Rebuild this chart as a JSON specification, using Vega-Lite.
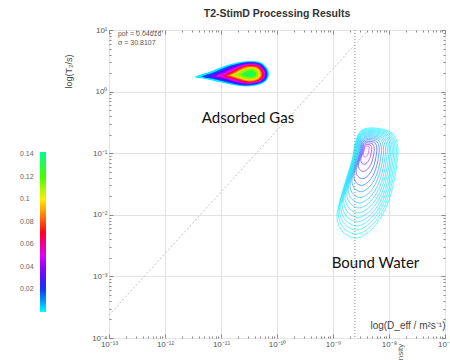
{
"$schema":"https://vega.github.io/schema/vega-lite/v6.json",
"width":336,"height":308,
"autosize":{"type":"none"},
"padding":{"left":109,"top":30,"right":5,"bottom":22},
"background":"white",
"title":{"text":"T2-StimD Processing Results","fontSize":10.5,"fontWeight":"bold","font":"Liberation Sans","color":"#333","anchor":"middle","offset":7},
"config":{
 "view":{"stroke":"#a0a0a0","strokeWidth":1},
 "axis":{"labelFont":"Liberation Sans","titleFont":"Liberation Sans","labelColor":"#555","labelFontSize":8,"tickColor":"#888","gridColor":"#e2e2e2","domain":false,"labelOverlap":false,"labelFlush":false,"titleFontWeight":"normal","titleColor":"#444"}
},
"resolve":{"axis":{"x":"independent","y":"independent"},"scale":{"color":"independent"}},
"datasets":{
"gas":[
{"g":"A","v":0.002,"i":1,"d":-11.464,"t":0.237},{"g":"A","v":0.002,"i":2,"d":-11.214,"t":0.318},{"g":"A","v":0.002,"i":3,"d":-10.964,"t":0.408},{"g":"A","v":0.002,"i":4,"d":-10.714,"t":0.473},{"g":"A","v":0.002,"i":5,"d":-10.464,"t":0.497},{"g":"A","v":0.002,"i":6,"d":-10.285,"t":0.473},{"g":"A","v":0.002,"i":7,"d":-10.178,"t":0.383},{"g":"A","v":0.002,"i":8,"d":-10.143,"t":0.286},{"g":"A","v":0.002,"i":9,"d":-10.178,"t":0.189},{"g":"A","v":0.002,"i":10,"d":-10.303,"t":0.116},{"g":"A","v":0.002,"i":11,"d":-10.535,"t":0.083},{"g":"A","v":0.002,"i":12,"d":-10.785,"t":0.107},{"g":"A","v":0.002,"i":13,"d":-11.035,"t":0.156},{"g":"A","v":0.002,"i":14,"d":-11.268,"t":0.205},
{"g":"B","v":0.018,"i":1,"d":-11.344,"t":0.241},{"g":"B","v":0.018,"i":2,"d":-11.124,"t":0.315},{"g":"B","v":0.018,"i":3,"d":-10.904,"t":0.398},{"g":"B","v":0.018,"i":4,"d":-10.684,"t":0.458},{"g":"B","v":0.018,"i":5,"d":-10.464,"t":0.48},{"g":"B","v":0.018,"i":6,"d":-10.299,"t":0.458},{"g":"B","v":0.018,"i":7,"d":-10.201,"t":0.375},{"g":"B","v":0.018,"i":8,"d":-10.169,"t":0.286},{"g":"B","v":0.018,"i":9,"d":-10.201,"t":0.197},{"g":"B","v":0.018,"i":10,"d":-10.316,"t":0.13},{"g":"B","v":0.018,"i":11,"d":-10.527,"t":0.099},{"g":"B","v":0.018,"i":12,"d":-10.747,"t":0.121},{"g":"B","v":0.018,"i":13,"d":-10.967,"t":0.166},{"g":"B","v":0.018,"i":14,"d":-11.172,"t":0.211},
{"g":"C","v":0.035,"i":1,"d":-11.224,"t":0.244},{"g":"C","v":0.035,"i":2,"d":-11.034,"t":0.313},{"g":"C","v":0.035,"i":3,"d":-10.844,"t":0.39},{"g":"C","v":0.035,"i":4,"d":-10.654,"t":0.445},{"g":"C","v":0.035,"i":5,"d":-10.464,"t":0.465},{"g":"C","v":0.035,"i":6,"d":-10.312,"t":0.445},{"g":"C","v":0.035,"i":7,"d":-10.221,"t":0.368},{"g":"C","v":0.035,"i":8,"d":-10.191,"t":0.286},{"g":"C","v":0.035,"i":9,"d":-10.221,"t":0.204},{"g":"C","v":0.035,"i":10,"d":-10.327,"t":0.142},{"g":"C","v":0.035,"i":11,"d":-10.518,"t":0.113},{"g":"C","v":0.035,"i":12,"d":-10.708,"t":0.134},{"g":"C","v":0.035,"i":13,"d":-10.898,"t":0.176},{"g":"C","v":0.035,"i":14,"d":-11.075,"t":0.217},
{"g":"D","v":0.05,"i":1,"d":-11.104,"t":0.248},{"g":"D","v":0.05,"i":2,"d":-10.944,"t":0.311},{"g":"D","v":0.05,"i":3,"d":-10.784,"t":0.381},{"g":"D","v":0.05,"i":4,"d":-10.624,"t":0.432},{"g":"D","v":0.05,"i":5,"d":-10.464,"t":0.451},{"g":"D","v":0.05,"i":6,"d":-10.324,"t":0.432},{"g":"D","v":0.05,"i":7,"d":-10.241,"t":0.362},{"g":"D","v":0.05,"i":8,"d":-10.214,"t":0.286},{"g":"D","v":0.05,"i":9,"d":-10.241,"t":0.21},{"g":"D","v":0.05,"i":10,"d":-10.338,"t":0.153},{"g":"D","v":0.05,"i":11,"d":-10.509,"t":0.128},{"g":"D","v":0.05,"i":12,"d":-10.669,"t":0.146},{"g":"D","v":0.05,"i":13,"d":-10.829,"t":0.185},{"g":"D","v":0.05,"i":14,"d":-10.979,"t":0.223},
{"g":"E","v":0.068,"i":1,"d":-10.984,"t":0.252},{"g":"E","v":0.068,"i":2,"d":-10.854,"t":0.308},{"g":"E","v":0.068,"i":3,"d":-10.724,"t":0.371},{"g":"E","v":0.068,"i":4,"d":-10.594,"t":0.417},{"g":"E","v":0.068,"i":5,"d":-10.464,"t":0.434},{"g":"E","v":0.068,"i":6,"d":-10.339,"t":0.417},{"g":"E","v":0.068,"i":7,"d":-10.264,"t":0.354},{"g":"E","v":0.068,"i":8,"d":-10.239,"t":0.286},{"g":"E","v":0.068,"i":9,"d":-10.264,"t":0.218},{"g":"E","v":0.068,"i":10,"d":-10.351,"t":0.167},{"g":"E","v":0.068,"i":11,"d":-10.501,"t":0.144},{"g":"E","v":0.068,"i":12,"d":-10.631,"t":0.161},{"g":"E","v":0.068,"i":13,"d":-10.761,"t":0.195},{"g":"E","v":0.068,"i":14,"d":-10.882,"t":0.229},
{"g":"F","v":0.082,"i":1,"d":-10.904,"t":0.256},{"g":"F","v":0.082,"i":2,"d":-10.794,"t":0.306},{"g":"F","v":0.082,"i":3,"d":-10.684,"t":0.362},{"g":"F","v":0.082,"i":4,"d":-10.574,"t":0.402},{"g":"F","v":0.082,"i":5,"d":-10.464,"t":0.417},{"g":"F","v":0.082,"i":6,"d":-10.353,"t":0.402},{"g":"F","v":0.082,"i":7,"d":-10.287,"t":0.346},{"g":"F","v":0.082,"i":8,"d":-10.265,"t":0.286},{"g":"F","v":0.082,"i":9,"d":-10.287,"t":0.226},{"g":"F","v":0.082,"i":10,"d":-10.364,"t":0.181},{"g":"F","v":0.082,"i":11,"d":-10.495,"t":0.16},{"g":"F","v":0.082,"i":12,"d":-10.605,"t":0.175},{"g":"F","v":0.082,"i":13,"d":-10.715,"t":0.205},{"g":"F","v":0.082,"i":14,"d":-10.818,"t":0.236},
{"g":"G","v":0.097,"i":1,"d":-10.844,"t":0.26},{"g":"G","v":0.097,"i":2,"d":-10.749,"t":0.303},{"g":"G","v":0.097,"i":3,"d":-10.654,"t":0.352},{"g":"G","v":0.097,"i":4,"d":-10.559,"t":0.387},{"g":"G","v":0.097,"i":5,"d":-10.464,"t":0.4},{"g":"G","v":0.097,"i":6,"d":-10.367,"t":0.387},{"g":"G","v":0.097,"i":7,"d":-10.31,"t":0.338},{"g":"G","v":0.097,"i":8,"d":-10.291,"t":0.286},{"g":"G","v":0.097,"i":9,"d":-10.31,"t":0.234},{"g":"G","v":0.097,"i":10,"d":-10.377,"t":0.194},{"g":"G","v":0.097,"i":11,"d":-10.491,"t":0.176},{"g":"G","v":0.097,"i":12,"d":-10.586,"t":0.189},{"g":"G","v":0.097,"i":13,"d":-10.681,"t":0.216},{"g":"G","v":0.097,"i":14,"d":-10.77,"t":0.242},
{"g":"H","v":0.112,"i":1,"d":-10.764,"t":0.265},{"g":"H","v":0.112,"i":2,"d":-10.689,"t":0.299},{"g":"H","v":0.112,"i":3,"d":-10.614,"t":0.337},{"g":"H","v":0.112,"i":4,"d":-10.539,"t":0.365},{"g":"H","v":0.112,"i":5,"d":-10.464,"t":0.375},{"g":"H","v":0.112,"i":6,"d":-10.389,"t":0.365},{"g":"H","v":0.112,"i":7,"d":-10.344,"t":0.327},{"g":"H","v":0.112,"i":8,"d":-10.329,"t":0.286},{"g":"H","v":0.112,"i":9,"d":-10.344,"t":0.245},{"g":"H","v":0.112,"i":10,"d":-10.396,"t":0.215},{"g":"H","v":0.112,"i":11,"d":-10.485,"t":0.201},{"g":"H","v":0.112,"i":12,"d":-10.56,"t":0.211},{"g":"H","v":0.112,"i":13,"d":-10.635,"t":0.231},{"g":"H","v":0.112,"i":14,"d":-10.705,"t":0.252},
{"g":"I","v":0.126,"i":1,"d":-10.664,"t":0.272},{"g":"I","v":0.126,"i":2,"d":-10.614,"t":0.295},{"g":"I","v":0.126,"i":3,"d":-10.564,"t":0.32},{"g":"I","v":0.126,"i":4,"d":-10.514,"t":0.338},{"g":"I","v":0.126,"i":5,"d":-10.464,"t":0.345},{"g":"I","v":0.126,"i":6,"d":-10.414,"t":0.338},{"g":"I","v":0.126,"i":7,"d":-10.384,"t":0.313},{"g":"I","v":0.126,"i":8,"d":-10.374,"t":0.286},{"g":"I","v":0.126,"i":9,"d":-10.384,"t":0.259},{"g":"I","v":0.126,"i":10,"d":-10.419,"t":0.238},{"g":"I","v":0.126,"i":11,"d":-10.478,"t":0.229},{"g":"I","v":0.126,"i":12,"d":-10.528,"t":0.236},{"g":"I","v":0.126,"i":13,"d":-10.578,"t":0.25},{"g":"I","v":0.126,"i":14,"d":-10.625,"t":0.263},
{"g":"J","v":0.138,"i":1,"d":-10.564,"t":0.279},{"g":"J","v":0.138,"i":2,"d":-10.539,"t":0.29},{"g":"J","v":0.138,"i":3,"d":-10.514,"t":0.303},{"g":"J","v":0.138,"i":4,"d":-10.489,"t":0.312},{"g":"J","v":0.138,"i":5,"d":-10.464,"t":0.316},{"g":"J","v":0.138,"i":6,"d":-10.439,"t":0.312},{"g":"J","v":0.138,"i":7,"d":-10.424,"t":0.3},{"g":"J","v":0.138,"i":8,"d":-10.419,"t":0.286},{"g":"J","v":0.138,"i":9,"d":-10.424,"t":0.272},{"g":"J","v":0.138,"i":10,"d":-10.441,"t":0.262},{"g":"J","v":0.138,"i":11,"d":-10.471,"t":0.258},{"g":"J","v":0.138,"i":12,"d":-10.496,"t":0.261},{"g":"J","v":0.138,"i":13,"d":-10.521,"t":0.268},{"g":"J","v":0.138,"i":14,"d":-10.544,"t":0.275}
],
"water":[
{"g":"W01","v":0.001,"i":1,"d":-8.25,"t":-0.591},{"g":"W01","v":0.001,"i":2,"d":-7.947,"t":-0.672},{"g":"W01","v":0.001,"i":3,"d":-7.84,"t":-0.916},{"g":"W01","v":0.001,"i":4,"d":-7.875,"t":-1.273},{"g":"W01","v":0.001,"i":5,"d":-7.947,"t":-1.598},{"g":"W01","v":0.001,"i":6,"d":-8.072,"t":-1.922},{"g":"W01","v":0.001,"i":7,"d":-8.286,"t":-2.215},{"g":"W01","v":0.001,"i":8,"d":-8.572,"t":-2.377},{"g":"W01","v":0.001,"i":9,"d":-8.822,"t":-2.28},{"g":"W01","v":0.001,"i":10,"d":-8.929,"t":-2.052},{"g":"W01","v":0.001,"i":11,"d":-8.875,"t":-1.76},{"g":"W01","v":0.001,"i":12,"d":-8.768,"t":-1.435},{"g":"W01","v":0.001,"i":13,"d":-8.661,"t":-1.111},{"g":"W01","v":0.001,"i":14,"d":-8.59,"t":-0.786},{"g":"W01","v":0.001,"i":15,"d":-8.482,"t":-0.624},
{"g":"W02","v":0.0015,"i":1,"d":-8.257,"t":-0.606},{"g":"W02","v":0.0015,"i":2,"d":-7.968,"t":-0.683},{"g":"W02","v":0.0015,"i":3,"d":-7.866,"t":-0.916},{"g":"W02","v":0.0015,"i":4,"d":-7.899,"t":-1.257},{"g":"W02","v":0.0015,"i":5,"d":-7.968,"t":-1.567},{"g":"W02","v":0.0015,"i":6,"d":-8.087,"t":-1.877},{"g":"W02","v":0.0015,"i":7,"d":-8.292,"t":-2.157},{"g":"W02","v":0.0015,"i":8,"d":-8.565,"t":-2.311},{"g":"W02","v":0.0015,"i":9,"d":-8.804,"t":-2.219},{"g":"W02","v":0.0015,"i":10,"d":-8.906,"t":-2.001},{"g":"W02","v":0.0015,"i":11,"d":-8.854,"t":-1.722},{"g":"W02","v":0.0015,"i":12,"d":-8.752,"t":-1.412},{"g":"W02","v":0.0015,"i":13,"d":-8.65,"t":-1.102},{"g":"W02","v":0.0015,"i":14,"d":-8.582,"t":-0.792},{"g":"W02","v":0.0015,"i":15,"d":-8.479,"t":-0.637},
{"g":"W03","v":0.002,"i":1,"d":-8.264,"t":-0.62},{"g":"W03","v":0.002,"i":2,"d":-7.989,"t":-0.694},{"g":"W03","v":0.002,"i":3,"d":-7.891,"t":-0.916},{"g":"W03","v":0.002,"i":4,"d":-7.923,"t":-1.241},{"g":"W03","v":0.002,"i":5,"d":-7.989,"t":-1.537},{"g":"W03","v":0.002,"i":6,"d":-8.103,"t":-1.831},{"g":"W03","v":0.002,"i":7,"d":-8.297,"t":-2.098},{"g":"W03","v":0.002,"i":8,"d":-8.558,"t":-2.246},{"g":"W03","v":0.002,"i":9,"d":-8.785,"t":-2.157},{"g":"W03","v":0.002,"i":10,"d":-8.882,"t":-1.95},{"g":"W03","v":0.002,"i":11,"d":-8.833,"t":-1.684},{"g":"W03","v":0.002,"i":12,"d":-8.736,"t":-1.388},{"g":"W03","v":0.002,"i":13,"d":-8.639,"t":-1.093},{"g":"W03","v":0.002,"i":14,"d":-8.574,"t":-0.798},{"g":"W03","v":0.002,"i":15,"d":-8.476,"t":-0.65},
{"g":"W04","v":0.0025,"i":1,"d":-8.272,"t":-0.635},{"g":"W04","v":0.0025,"i":2,"d":-8.01,"t":-0.705},{"g":"W04","v":0.0025,"i":3,"d":-7.917,"t":-0.916},{"g":"W04","v":0.0025,"i":4,"d":-7.947,"t":-1.225},{"g":"W04","v":0.0025,"i":5,"d":-8.01,"t":-1.506},{"g":"W04","v":0.0025,"i":6,"d":-8.118,"t":-1.786},{"g":"W04","v":0.0025,"i":7,"d":-8.303,"t":-2.04},{"g":"W04","v":0.0025,"i":8,"d":-8.55,"t":-2.18},{"g":"W04","v":0.0025,"i":9,"d":-8.767,"t":-2.096},{"g":"W04","v":0.0025,"i":10,"d":-8.859,"t":-1.899},{"g":"W04","v":0.0025,"i":11,"d":-8.812,"t":-1.646},{"g":"W04","v":0.0025,"i":12,"d":-8.72,"t":-1.365},{"g":"W04","v":0.0025,"i":13,"d":-8.627,"t":-1.085},{"g":"W04","v":0.0025,"i":14,"d":-8.566,"t":-0.804},{"g":"W04","v":0.0025,"i":15,"d":-8.472,"t":-0.663},
{"g":"W05","v":0.003,"i":1,"d":-8.279,"t":-0.649},{"g":"W05","v":0.003,"i":2,"d":-8.031,"t":-0.716},{"g":"W05","v":0.003,"i":3,"d":-7.943,"t":-0.916},{"g":"W05","v":0.003,"i":4,"d":-7.971,"t":-1.209},{"g":"W05","v":0.003,"i":5,"d":-8.031,"t":-1.475},{"g":"W05","v":0.003,"i":6,"d":-8.133,"t":-1.741},{"g":"W05","v":0.003,"i":7,"d":-8.308,"t":-1.981},{"g":"W05","v":0.003,"i":8,"d":-8.543,"t":-2.114},{"g":"W05","v":0.003,"i":9,"d":-8.748,"t":-2.034},{"g":"W05","v":0.003,"i":10,"d":-8.836,"t":-1.848},{"g":"W05","v":0.003,"i":11,"d":-8.791,"t":-1.608},{"g":"W05","v":0.003,"i":12,"d":-8.704,"t":-1.342},{"g":"W05","v":0.003,"i":13,"d":-8.616,"t":-1.076},{"g":"W05","v":0.003,"i":14,"d":-8.558,"t":-0.809},{"g":"W05","v":0.003,"i":15,"d":-8.469,"t":-0.677},
{"g":"W06","v":0.0035,"i":1,"d":-8.287,"t":-0.666},{"g":"W06","v":0.0035,"i":2,"d":-8.054,"t":-0.728},{"g":"W06","v":0.0035,"i":3,"d":-7.971,"t":-0.916},{"g":"W06","v":0.0035,"i":4,"d":-7.998,"t":-1.191},{"g":"W06","v":0.0035,"i":5,"d":-8.054,"t":-1.441},{"g":"W06","v":0.0035,"i":6,"d":-8.15,"t":-1.691},{"g":"W06","v":0.0035,"i":7,"d":-8.315,"t":-1.916},{"g":"W06","v":0.0035,"i":8,"d":-8.535,"t":-2.041},{"g":"W06","v":0.0035,"i":9,"d":-8.727,"t":-1.966},{"g":"W06","v":0.0035,"i":10,"d":-8.81,"t":-1.791},{"g":"W06","v":0.0035,"i":11,"d":-8.768,"t":-1.566},{"g":"W06","v":0.0035,"i":12,"d":-8.686,"t":-1.316},{"g":"W06","v":0.0035,"i":13,"d":-8.604,"t":-1.066},{"g":"W06","v":0.0035,"i":14,"d":-8.549,"t":-0.816},{"g":"W06","v":0.0035,"i":15,"d":-8.466,"t":-0.691},
{"g":"W07","v":0.004,"i":1,"d":-8.295,"t":-0.682},{"g":"W07","v":0.004,"i":2,"d":-8.077,"t":-0.74},{"g":"W07","v":0.004,"i":3,"d":-8.0,"t":-0.916},{"g":"W07","v":0.004,"i":4,"d":-8.025,"t":-1.173},{"g":"W07","v":0.004,"i":5,"d":-8.077,"t":-1.407},{"g":"W07","v":0.004,"i":6,"d":-8.167,"t":-1.64},{"g":"W07","v":0.004,"i":7,"d":-8.321,"t":-1.851},{"g":"W07","v":0.004,"i":8,"d":-8.527,"t":-1.968},{"g":"W07","v":0.004,"i":9,"d":-8.707,"t":-1.898},{"g":"W07","v":0.004,"i":10,"d":-8.784,"t":-1.734},{"g":"W07","v":0.004,"i":11,"d":-8.745,"t":-1.524},{"g":"W07","v":0.004,"i":12,"d":-8.668,"t":-1.29},{"g":"W07","v":0.004,"i":13,"d":-8.591,"t":-1.056},{"g":"W07","v":0.004,"i":14,"d":-8.54,"t":-0.822},{"g":"W07","v":0.004,"i":15,"d":-8.462,"t":-0.706},
{"g":"W08","v":0.005,"i":1,"d":-8.304,"t":-0.7},{"g":"W08","v":0.005,"i":2,"d":-8.102,"t":-0.754},{"g":"W08","v":0.005,"i":3,"d":-8.031,"t":-0.916},{"g":"W08","v":0.005,"i":4,"d":-8.055,"t":-1.153},{"g":"W08","v":0.005,"i":5,"d":-8.102,"t":-1.37},{"g":"W08","v":0.005,"i":6,"d":-8.186,"t":-1.585},{"g":"W08","v":0.005,"i":7,"d":-8.328,"t":-1.78},{"g":"W08","v":0.005,"i":8,"d":-8.518,"t":-1.888},{"g":"W08","v":0.005,"i":9,"d":-8.684,"t":-1.823},{"g":"W08","v":0.005,"i":10,"d":-8.755,"t":-1.671},{"g":"W08","v":0.005,"i":11,"d":-8.72,"t":-1.477},{"g":"W08","v":0.005,"i":12,"d":-8.648,"t":-1.261},{"g":"W08","v":0.005,"i":13,"d":-8.577,"t":-1.046},{"g":"W08","v":0.005,"i":14,"d":-8.53,"t":-0.83},{"g":"W08","v":0.005,"i":15,"d":-8.458,"t":-0.722},
{"g":"W09","v":0.006,"i":1,"d":-8.313,"t":-0.718},{"g":"W09","v":0.006,"i":2,"d":-8.128,"t":-0.767},{"g":"W09","v":0.006,"i":3,"d":-8.063,"t":-0.916},{"g":"W09","v":0.006,"i":4,"d":-8.084,"t":-1.134},{"g":"W09","v":0.006,"i":5,"d":-8.128,"t":-1.332},{"g":"W09","v":0.006,"i":6,"d":-8.204,"t":-1.53},{"g":"W09","v":0.006,"i":7,"d":-8.335,"t":-1.708},{"g":"W09","v":0.006,"i":8,"d":-8.509,"t":-1.807},{"g":"W09","v":0.006,"i":9,"d":-8.662,"t":-1.748},{"g":"W09","v":0.006,"i":10,"d":-8.727,"t":-1.609},{"g":"W09","v":0.006,"i":11,"d":-8.694,"t":-1.431},{"g":"W09","v":0.006,"i":12,"d":-8.629,"t":-1.233},{"g":"W09","v":0.006,"i":13,"d":-8.564,"t":-1.035},{"g":"W09","v":0.006,"i":14,"d":-8.52,"t":-0.837},{"g":"W09","v":0.006,"i":15,"d":-8.454,"t":-0.738},
{"g":"W10","v":0.008,"i":1,"d":-8.322,"t":-0.737},{"g":"W10","v":0.008,"i":2,"d":-8.156,"t":-0.782},{"g":"W10","v":0.008,"i":3,"d":-8.097,"t":-0.916},{"g":"W10","v":0.008,"i":4,"d":-8.116,"t":-1.112},{"g":"W10","v":0.008,"i":5,"d":-8.156,"t":-1.291},{"g":"W10","v":0.008,"i":6,"d":-8.225,"t":-1.469},{"g":"W10","v":0.008,"i":7,"d":-8.342,"t":-1.63},{"g":"W10","v":0.008,"i":8,"d":-8.5,"t":-1.72},{"g":"W10","v":0.008,"i":9,"d":-8.637,"t":-1.666},{"g":"W10","v":0.008,"i":10,"d":-8.696,"t":-1.541},{"g":"W10","v":0.008,"i":11,"d":-8.666,"t":-1.38},{"g":"W10","v":0.008,"i":12,"d":-8.607,"t":-1.201},{"g":"W10","v":0.008,"i":13,"d":-8.549,"t":-1.023},{"g":"W10","v":0.008,"i":14,"d":-8.509,"t":-0.844},{"g":"W10","v":0.008,"i":15,"d":-8.45,"t":-0.755},
{"g":"W11","v":0.011,"i":1,"d":-8.333,"t":-0.758},{"g":"W11","v":0.011,"i":2,"d":-8.186,"t":-0.798},{"g":"W11","v":0.011,"i":3,"d":-8.134,"t":-0.916},{"g":"W11","v":0.011,"i":4,"d":-8.151,"t":-1.089},{"g":"W11","v":0.011,"i":5,"d":-8.186,"t":-1.247},{"g":"W11","v":0.011,"i":6,"d":-8.247,"t":-1.404},{"g":"W11","v":0.011,"i":7,"d":-8.35,"t":-1.546},{"g":"W11","v":0.011,"i":8,"d":-8.489,"t":-1.625},{"g":"W11","v":0.011,"i":9,"d":-8.61,"t":-1.578},{"g":"W11","v":0.011,"i":10,"d":-8.662,"t":-1.467},{"g":"W11","v":0.011,"i":11,"d":-8.636,"t":-1.325},{"g":"W11","v":0.011,"i":12,"d":-8.584,"t":-1.168},{"g":"W11","v":0.011,"i":13,"d":-8.532,"t":-1.011},{"g":"W11","v":0.011,"i":14,"d":-8.498,"t":-0.853},{"g":"W11","v":0.011,"i":15,"d":-8.445,"t":-0.774},
{"g":"W12","v":0.015,"i":1,"d":-8.344,"t":-0.781},{"g":"W12","v":0.015,"i":2,"d":-8.218,"t":-0.815},{"g":"W12","v":0.015,"i":3,"d":-8.174,"t":-0.916},{"g":"W12","v":0.015,"i":4,"d":-8.189,"t":-1.064},{"g":"W12","v":0.015,"i":5,"d":-8.218,"t":-1.199},{"g":"W12","v":0.015,"i":6,"d":-8.27,"t":-1.333},{"g":"W12","v":0.015,"i":7,"d":-8.359,"t":-1.455},{"g":"W12","v":0.015,"i":8,"d":-8.478,"t":-1.522},{"g":"W12","v":0.015,"i":9,"d":-8.582,"t":-1.482},{"g":"W12","v":0.015,"i":10,"d":-8.626,"t":-1.387},{"g":"W12","v":0.015,"i":11,"d":-8.604,"t":-1.266},{"g":"W12","v":0.015,"i":12,"d":-8.559,"t":-1.131},{"g":"W12","v":0.015,"i":13,"d":-8.515,"t":-0.997},{"g":"W12","v":0.015,"i":14,"d":-8.485,"t":-0.862},{"g":"W12","v":0.015,"i":15,"d":-8.44,"t":-0.795},
{"g":"W13","v":0.02,"i":1,"d":-8.356,"t":-0.805},{"g":"W13","v":0.02,"i":2,"d":-8.253,"t":-0.833},{"g":"W13","v":0.02,"i":3,"d":-8.217,"t":-0.916},{"g":"W13","v":0.02,"i":4,"d":-8.229,"t":-1.037},{"g":"W13","v":0.02,"i":5,"d":-8.253,"t":-1.148},{"g":"W13","v":0.02,"i":6,"d":-8.296,"t":-1.258},{"g":"W13","v":0.02,"i":7,"d":-8.368,"t":-1.358},{"g":"W13","v":0.02,"i":8,"d":-8.466,"t":-1.413},{"g":"W13","v":0.02,"i":9,"d":-8.551,"t":-1.38},{"g":"W13","v":0.02,"i":10,"d":-8.587,"t":-1.302},{"g":"W13","v":0.02,"i":11,"d":-8.569,"t":-1.203},{"g":"W13","v":0.02,"i":12,"d":-8.532,"t":-1.092},{"g":"W13","v":0.02,"i":13,"d":-8.496,"t":-0.982},{"g":"W13","v":0.02,"i":14,"d":-8.472,"t":-0.872},{"g":"W13","v":0.02,"i":15,"d":-8.435,"t":-0.817},
{"g":"W14","v":0.028,"i":1,"d":-8.369,"t":-0.831},{"g":"W14","v":0.028,"i":2,"d":-8.29,"t":-0.853},{"g":"W14","v":0.028,"i":3,"d":-8.263,"t":-0.916},{"g":"W14","v":0.028,"i":4,"d":-8.272,"t":-1.009},{"g":"W14","v":0.028,"i":5,"d":-8.29,"t":-1.093},{"g":"W14","v":0.028,"i":6,"d":-8.323,"t":-1.178},{"g":"W14","v":0.028,"i":7,"d":-8.378,"t":-1.254},{"g":"W14","v":0.028,"i":8,"d":-8.453,"t":-1.296},{"g":"W14","v":0.028,"i":9,"d":-8.518,"t":-1.271},{"g":"W14","v":0.028,"i":10,"d":-8.546,"t":-1.211},{"g":"W14","v":0.028,"i":11,"d":-8.532,"t":-1.135},{"g":"W14","v":0.028,"i":12,"d":-8.504,"t":-1.051},{"g":"W14","v":0.028,"i":13,"d":-8.476,"t":-0.967},{"g":"W14","v":0.028,"i":14,"d":-8.458,"t":-0.882},{"g":"W14","v":0.028,"i":15,"d":-8.429,"t":-0.84},
{"g":"W15","v":0.038,"i":1,"d":-8.382,"t":-0.857},{"g":"W15","v":0.038,"i":2,"d":-8.327,"t":-0.872},{"g":"W15","v":0.038,"i":3,"d":-8.308,"t":-0.916},{"g":"W15","v":0.038,"i":4,"d":-8.315,"t":-0.98},{"g":"W15","v":0.038,"i":5,"d":-8.327,"t":-1.039},{"g":"W15","v":0.038,"i":6,"d":-8.35,"t":-1.097},{"g":"W15","v":0.038,"i":7,"d":-8.388,"t":-1.15},{"g":"W15","v":0.038,"i":8,"d":-8.44,"t":-1.179},{"g":"W15","v":0.038,"i":9,"d":-8.485,"t":-1.162},{"g":"W15","v":0.038,"i":10,"d":-8.504,"t":-1.12},{"g":"W15","v":0.038,"i":11,"d":-8.495,"t":-1.068},{"g":"W15","v":0.038,"i":12,"d":-8.475,"t":-1.009},{"g":"W15","v":0.038,"i":13,"d":-8.456,"t":-0.951},{"g":"W15","v":0.038,"i":14,"d":-8.443,"t":-0.893},{"g":"W15","v":0.038,"i":15,"d":-8.424,"t":-0.863},
{"g":"W16","v":0.05,"i":1,"d":-8.395,"t":-0.883},{"g":"W16","v":0.05,"i":2,"d":-8.365,"t":-0.892},{"g":"W16","v":0.05,"i":3,"d":-8.354,"t":-0.916},{"g":"W16","v":0.05,"i":4,"d":-8.357,"t":-0.952},{"g":"W16","v":0.05,"i":5,"d":-8.365,"t":-0.984},{"g":"W16","v":0.05,"i":6,"d":-8.377,"t":-1.017},{"g":"W16","v":0.05,"i":7,"d":-8.398,"t":-1.046},{"g":"W16","v":0.05,"i":8,"d":-8.427,"t":-1.062},{"g":"W16","v":0.05,"i":9,"d":-8.452,"t":-1.052},{"g":"W16","v":0.05,"i":10,"d":-8.463,"t":-1.03},{"g":"W16","v":0.05,"i":11,"d":-8.457,"t":-1.0},{"g":"W16","v":0.05,"i":12,"d":-8.447,"t":-0.968},{"g":"W16","v":0.05,"i":13,"d":-8.436,"t":-0.936},{"g":"W16","v":0.05,"i":14,"d":-8.429,"t":-0.903},{"g":"W16","v":0.05,"i":15,"d":-8.418,"t":-0.887}
],
"diag":[{"d":-13,"t":-3.63},{"d":-8.37,"t":1}],
"water_line":[{"d":-8.61}],
"labels":[{"d":-10.518,"t":-0.429,"txt":"Adsorbed Gas"},{"d":-8.241,"t":-2.782,"txt":"Bound Water"}],
"stats":[{"d":-12.84,"t":0.935,"txt":"por = 0.04616"},{"d":-12.84,"t":0.79,"txt":"σ = 30.8107"}],
"cut":[{"d":-7.786,"t":-4.227,"txt":"nsity"}]
},
"layer":[
{"data":{"name":"gas"},
 "mark":{"type":"line","filled":true,"interpolate":"cardinal-closed","strokeWidth":0},
 "encoding":{
  "x":{"field":"d","type":"quantitative","scale":{"domain":[-13,-7],"nice":false,"zero":false},
   "axis":{"orient":"bottom","title":"log(D_eff / m²s⁻¹)","titleX":336,"titleY":-8,"titleAlign":"right","titleBaseline":"bottom","titleFontSize":10,"labelPadding":6,
    "values":[-13,-12,-11,-10,-9,-8,-7,-12.699,-12.523,-12.398,-12.301,-12.222,-12.155,-12.097,-12.046,-11.699,-11.523,-11.398,-11.301,-11.222,-11.155,-11.097,-11.046,-10.699,-10.523,-10.398,-10.301,-10.222,-10.155,-10.097,-10.046,-9.699,-9.523,-9.398,-9.301,-9.222,-9.155,-9.097,-9.046,-8.699,-8.523,-8.398,-8.301,-8.222,-8.155,-8.097,-8.046,-7.699,-7.523,-7.398,-7.301,-7.222,-7.155,-7.097,-7.046],
    "tickSize":{"condition":{"test":"datum.value % 1 === 0","value":-4},"value":-2},
    "gridOpacity":{"condition":{"test":"datum.value % 1 === 0","value":1},"value":0},
    "labelExpr":"datum.value % 1 === 0 ? '10' + replace(replace(replace(replace(replace(replace(replace(replace(replace(replace(replace('' + datum.value, regexp('-','g'), '⁻'), regexp('0','g'), '⁰'), regexp('1','g'), '¹'), regexp('2','g'), '²'), regexp('3','g'), '³'), regexp('4','g'), '⁴'), regexp('5','g'), '⁵'), regexp('6','g'), '⁶'), regexp('7','g'), '⁷'), regexp('8','g'), '⁸'), regexp('9','g'), '⁹') : ''"}},
  "y":{"field":"t","type":"quantitative","scale":{"domain":[-4,1],"nice":false,"zero":false},
   "axis":{"orient":"left","title":"log(T₂/s)","titleX":-36,"titleY":41,"titleAlign":"center","titleBaseline":"bottom","titleAngle":-90,"titleFontSize":9,"labelPadding":6,
    "values":[1,0,-1,-2,-3,-4,-3.699,-3.523,-3.398,-3.301,-3.222,-3.155,-3.097,-3.046,-2.699,-2.523,-2.398,-2.301,-2.222,-2.155,-2.097,-2.046,-1.699,-1.523,-1.398,-1.301,-1.222,-1.155,-1.097,-1.046,-0.699,-0.523,-0.398,-0.301,-0.222,-0.155,-0.097,-0.046,0.301,0.477,0.602,0.699,0.778,0.845,0.903,0.954],
    "tickSize":{"condition":{"test":"datum.value % 1 === 0","value":-4},"value":-2},
    "gridOpacity":{"condition":{"test":"datum.value % 1 === 0","value":1},"value":0},
    "labelExpr":"datum.value % 1 === 0 ? '10' + replace(replace(replace(replace(replace(replace(replace(replace(replace(replace(replace('' + datum.value, regexp('-','g'), '⁻'), regexp('0','g'), '⁰'), regexp('1','g'), '¹'), regexp('2','g'), '²'), regexp('3','g'), '³'), regexp('4','g'), '⁴'), regexp('5','g'), '⁵'), regexp('6','g'), '⁶'), regexp('7','g'), '⁷'), regexp('8','g'), '⁸'), regexp('9','g'), '⁹') : ''"}},
  "color":{"field":"v","type":"quantitative",
   "scale":{"domain":[0,0.018,0.035,0.05,0.07,0.088,0.1,0.12,0.142],"range":["#00ffff","#0040ff","#7000ff","#e000ff","#ff0020","#ff9000","#ffee00","#40ff00","#00ff90"],"interpolate":"rgb"},
   "legend":{"type":"gradient","orient":"none","legendX":-69,"legendY":122,"direction":"vertical","gradientLength":160,"gradientThickness":6,"title":null,"values":[0.02,0.04,0.06,0.08,0.1,0.12,0.14],"labelAlign":"right","labelOffset":-26,"labelFontSize":7,"labelFont":"Liberation Sans","labelColor":"#666","labelExpr":"'' + datum.value","gradientStrokeWidth":0}},
  "detail":{"field":"g"},
  "order":{"field":"i","type":"quantitative"}
 }},
{"data":{"name":"water"},
 "mark":{"type":"line","interpolate":"cardinal-closed","strokeWidth":0.7,"opacity":0.85},
 "encoding":{
  "x":{"field":"d","type":"quantitative","axis":null},
  "y":{"field":"t","type":"quantitative","axis":null},
  "color":{"field":"v","type":"quantitative","legend":null,
   "scale":{"domain":[0,0.018,0.035,0.05,0.07,0.088,0.1,0.12,0.142],"range":["#00ffff","#0040ff","#7000ff","#e000ff","#ff0020","#ff9000","#ffee00","#40ff00","#00ff90"],"interpolate":"rgb"}},
  "detail":{"field":"g"},
  "order":{"field":"i","type":"quantitative"}
 }},
{"data":{"name":"diag"},
 "mark":{"type":"line","color":"#c4c4c4","strokeWidth":1,"strokeDash":[2,2]},
 "encoding":{
  "x":{"field":"d","type":"quantitative","axis":{"orient":"top","labels":false,"title":null,"grid":false,
    "values":[-13,-12,-11,-10,-9,-8,-7,-12.699,-12.523,-12.398,-12.301,-12.222,-12.155,-12.097,-12.046,-11.699,-11.523,-11.398,-11.301,-11.222,-11.155,-11.097,-11.046,-10.699,-10.523,-10.398,-10.301,-10.222,-10.155,-10.097,-10.046,-9.699,-9.523,-9.398,-9.301,-9.222,-9.155,-9.097,-9.046,-8.699,-8.523,-8.398,-8.301,-8.222,-8.155,-8.097,-8.046,-7.699,-7.523,-7.398,-7.301,-7.222,-7.155,-7.097,-7.046],
    "tickSize":{"condition":{"test":"datum.value % 1 === 0","value":-4},"value":-2}}},
  "y":{"field":"t","type":"quantitative","axis":{"orient":"right","labels":false,"title":null,"grid":false,
    "values":[1,0,-1,-2,-3,-4,-3.699,-3.523,-3.398,-3.301,-3.222,-3.155,-3.097,-3.046,-2.699,-2.523,-2.398,-2.301,-2.222,-2.155,-2.097,-2.046,-1.699,-1.523,-1.398,-1.301,-1.222,-1.155,-1.097,-1.046,-0.699,-0.523,-0.398,-0.301,-0.222,-0.155,-0.097,-0.046,0.301,0.477,0.602,0.699,0.778,0.845,0.903,0.954],
    "tickSize":{"condition":{"test":"datum.value % 1 === 0","value":-4},"value":-2}}}
 }},
{"data":{"name":"water_line"},
 "mark":{"type":"rule","color":"#8a8a8a","strokeWidth":1,"strokeDash":[1,2]},
 "encoding":{"x":{"field":"d","type":"quantitative","axis":null}}},
{"data":{"name":"labels"},
 "mark":{"type":"text","font":"Lato","fontSize":15,"color":"#111","align":"center","baseline":"middle"},
 "encoding":{"x":{"field":"d","type":"quantitative","axis":null},"y":{"field":"t","type":"quantitative","axis":null},"text":{"field":"txt"}}},
{"data":{"name":"stats"},
 "mark":{"type":"text","font":"Liberation Sans","fontSize":7,"color":"#555","align":"left","baseline":"middle"},
 "encoding":{"x":{"field":"d","type":"quantitative","axis":null},"y":{"field":"t","type":"quantitative","axis":null},"text":{"field":"txt"}}},
{"data":{"name":"cut"},
 "mark":{"type":"text","font":"Liberation Sans","fontSize":8,"color":"#666","align":"center","baseline":"middle","angle":270},
 "encoding":{"x":{"field":"d","type":"quantitative","axis":null},"y":{"field":"t","type":"quantitative","axis":null},"text":{"field":"txt"}}}
]
}
